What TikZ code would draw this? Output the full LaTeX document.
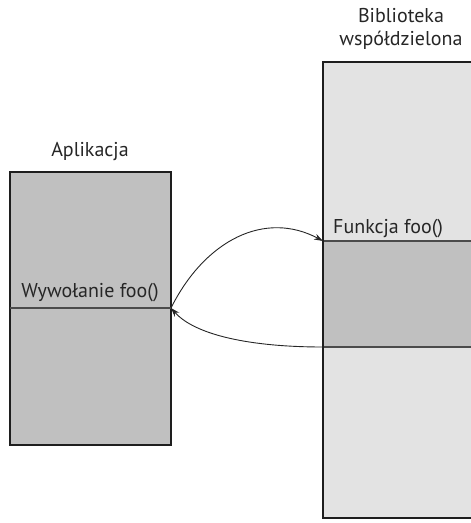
\documentclass[tikz,border=0pt]{standalone}
\usepackage{fontspec}
\setmainfont{PT Sans}
\usetikzlibrary{arrows.meta}
\definecolor{border}{HTML}{1E1E1E}
\definecolor{darkfill}{HTML}{C0C0C0}
\definecolor{lightfill}{HTML}{E3E3E3}
\tikzset{
  boxfill/.style={draw=none, rectangle, inner sep=0pt, outer sep=0pt, anchor=north west},
  boxline/.style={draw=border, line width=2pt},
  divline/.style={draw=border!80, line width=1.3pt},
  label/.style={font=\fontsize{20}{23}\selectfont, text=black!85, inner sep=0pt},
  callarrow/.style={draw=black!85, line width=0.9pt, -{Stealth[length=9pt,width=6pt]}},
}
\begin{document}
\begin{tikzpicture}[x=1pt,y=-1pt]
\useasboundingbox (0,0) rectangle (471,523);
% application box
\node[boxfill, fill=darkfill, minimum width=161, minimum height=273] (app) at (10,172) {};
\draw[boxline] (app.north west) rectangle (app.south east);
\coordinate (appdivW) at (10,308);
\coordinate (appdivE) at (171,308);
\draw[divline] (appdivW) -- (appdivE);
\node[label, anchor=base] (apptitle) at (90,156) {Aplikacja};
\node[label, anchor=base] (appcall) at (90,297) {Wywołanie foo()};
% library box
\node[boxfill, fill=lightfill, minimum width=148, minimum height=456] (lib) at (323,62) {};
\node[boxfill, fill=darkfill, minimum width=148, minimum height=106] (band) at (323,241) {};
\draw[divline] (band.north west) -- (band.north east);
\draw[divline] (band.south west) -- (band.south east);
\draw[boxline] (lib.north east) -- (lib.north west) -- (lib.south west) -- (lib.south east);
\node[label, anchor=base, align=center] (libtitle) at (401,45) {Biblioteka\\współdzielona};
\node[label, anchor=base west] (libfunc) at (333,233) {Funkcja foo()};
% arrows
\draw[callarrow] (appdivE) .. controls (205,240) and (265,210) .. (band.north west);
\draw[callarrow] (band.south west) .. controls (250,347) and (195,335) .. (appdivE);
\end{tikzpicture}
\end{document}
